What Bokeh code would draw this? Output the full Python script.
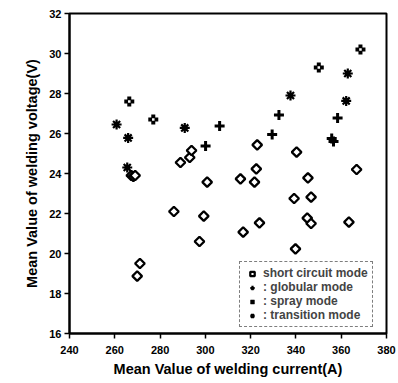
import numpy as np
from bokeh.plotting import figure
from bokeh.models import Range1d, FixedTicker, Legend, LegendItem
from bokeh.embed import file_html
from bokeh.resources import INLINE

# Short circuit mode (open diamonds)
sc_current = [289.0, 293.1, 293.9, 300.8, 315.5, 321.7, 322.5, 322.9, 340.3, 366.8,
              345.3, 339.2, 346.7, 286.1, 299.3, 297.4, 316.7, 323.9, 345.0, 346.7,
              363.4, 339.8, 271.1, 269.9, 267.3, 268.2, 269.0]
sc_voltage = [24.55, 24.8, 25.15, 23.57, 23.73, 23.57, 24.23, 25.43, 25.07, 24.2,
              23.78, 22.75, 22.82, 22.1, 21.87, 20.6, 21.07, 21.53, 21.77, 21.5,
              21.57, 20.23, 19.5, 18.87, 23.9, 23.85, 23.9]

# Globular mode (asterisks)
gl_current = [260.8, 265.9, 265.5, 290.9, 337.6, 362.9, 362.2]
gl_voltage = [26.45, 25.78, 24.3, 26.28, 27.9, 29.0, 27.63]

# Spray mode
sp_current = [266.4, 277.0, 350.1, 368.5]
sp_voltage = [27.6, 26.7, 29.3, 30.2]

# Transition mode (plus signs)
tr_current = [300.1, 306.3, 329.5, 332.5, 358.4, 355.8, 356.6]
tr_voltage = [25.37, 26.37, 25.95, 26.93, 26.77, 25.75, 25.6]

x_ticks = [240, 260, 280, 300, 320, 340, 360, 380]
y_ticks = [16, 18, 20, 22, 24, 26, 28, 30, 32]

FONT = "Liberation Sans"

p = figure(width=398, height=383, output_backend="svg", toolbar_location=None,
           x_range=Range1d(240, 380), y_range=Range1d(16, 32),
           min_border_left=69, min_border_right=12, min_border_top=13,
           min_border_bottom=50)
p.grid.visible = False
p.outline_line_color = "black"
p.outline_line_width = 2
p.background_fill_color = "white"
p.border_fill_color = "white"

for ax in (p.xaxis[0], p.yaxis[0]):
    ax.axis_line_width = 2
    ax.major_tick_line_width = 1.5
    ax.major_tick_out = 5
    ax.major_tick_in = 0
    ax.minor_tick_line_color = None
    ax.major_label_text_font = FONT
    ax.major_label_text_font_style = "bold"
    ax.major_label_text_font_size = "11px"
    ax.major_label_text_color = "black"
    ax.axis_label_text_font = FONT
    ax.axis_label_text_font_style = "bold"
    ax.axis_label_text_font_size = "14.5px"
    ax.axis_label_text_color = "black"

p.xaxis.ticker = FixedTicker(ticks=x_ticks)
p.yaxis.ticker = FixedTicker(ticks=y_ticks)
p.xaxis.axis_label = "Mean Value of welding current(A)"
p.yaxis.axis_label = "Mean Value of welding voltage(V)"
p.xaxis.axis_label_standoff = 4
p.yaxis.axis_label_standoff = 6
p.xaxis.major_label_standoff = 7
p.yaxis.major_label_standoff = 3

r_sc = p.scatter(sc_current, sc_voltage, marker="square", angle=np.pi / 4, size=6.8,
                 fill_color="white", line_color="black", line_width=2.3)
r_gl = p.scatter(gl_current, gl_voltage, marker="asterisk", size=10,
                 line_color="black", line_width=2.2)
r_sp = p.scatter(sp_current, sp_voltage, marker="cross", size=10,
                 line_color="black", line_width=4)
p.scatter(sp_current, sp_voltage, marker="square", size=2.5,
          fill_color="white", line_color=None)
r_tr = p.scatter(tr_current, tr_voltage, marker="cross", size=10,
                 line_color="black", line_width=3)

legend = Legend(items=[
    LegendItem(label="short circuit mode", renderers=[r_sc]),
    LegendItem(label=": globular mode", renderers=[r_gl]),
    LegendItem(label=": spray mode", renderers=[r_sp]),
    LegendItem(label=": transition mode", renderers=[r_tr]),
], location=(170, 6))
legend.label_text_font = FONT
legend.label_text_font_style = "bold"
legend.label_text_font_size = "12px"
legend.label_height = 11
legend.glyph_height = 11
legend.glyph_width = 16
legend.spacing = 0
legend.padding = 4
legend.margin = 0
legend.label_standoff = 3
legend.border_line_color = "black"
legend.border_line_width = 1
legend.border_line_dash = "5 1"
legend.background_fill_alpha = 1
p.add_layout(legend, "center")

open("out.html", "w").write(file_html(p, INLINE))
